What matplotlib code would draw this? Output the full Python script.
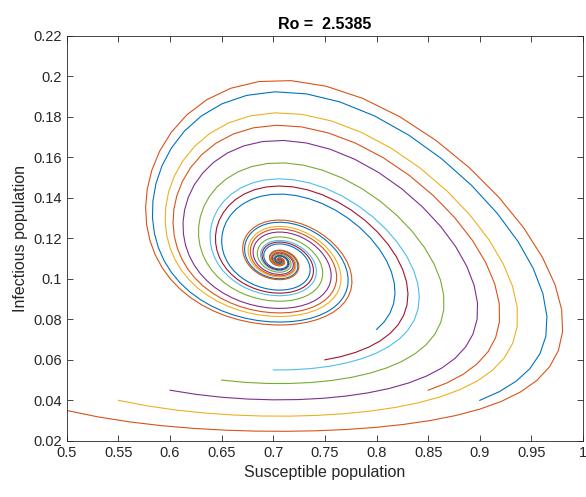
import numpy as np
import matplotlib.pyplot as plt

# initial conditions of each trajectory (plot order sets the colour)
S0 = [0.90, 0.50, 0.55, 0.60, 0.65, 0.70, 0.75, 0.80, 0.85]
I0 = [0.040, 0.035, 0.040, 0.045, 0.050, 0.055, 0.060, 0.075, 0.045]

R0 = 2.5385
S_eq = 0.706   # endemic equilibrium
I_eq = 0.109
beta = 1.0
mu = 0.004     # removal from the susceptible class
gamma = beta * S_eq
Lam = S_eq * (beta * I_eq + mu)

colores = ['#0072BD', '#D95319', '#EDB120', '#7E2F8E', '#77AC30', '#4DBEEE', '#A2142F']


def f(y):
    S, I = y
    return np.array([Lam - beta * S * I - mu * S, beta * S * I - gamma * I])


def rk4(y0, T=150.0, h=0.02, cada=25):
    y = np.array(y0, dtype=float)
    pts = [y.copy()]
    n = int(T / h)
    for i in range(n):
        k1 = f(y)
        k2 = f(y + h / 2 * k1)
        k3 = f(y + h / 2 * k2)
        k4 = f(y + h * k3)
        y = y + h / 6 * (k1 + 2 * k2 + 2 * k3 + k4)
        if (i + 1) % cada == 0:
            pts.append(y.copy())
    return np.array(pts)


plt.rcParams['font.family'] = ['Liberation Sans', 'DejaVu Sans']
fig = plt.figure(figsize=(5.86, 4.97), dpi=100)
ax = fig.add_axes([0.114, 0.113, 0.881, 0.815])

for j, (s, i) in enumerate(zip(S0, I0)):
    tr = rk4([s, i])
    ax.plot(tr[:, 0], tr[:, 1], color=colores[j % len(colores)], lw=0.8)

ax.set_xlim(0.5, 1.0)
ax.set_ylim(0.02, 0.22)
ax.set_xticks(np.arange(0.5, 1.001, 0.05))
ax.set_xticklabels(['0.5', '0.55', '0.6', '0.65', '0.7', '0.75', '0.8', '0.85', '0.9', '0.95', '1'])
ax.set_yticks(np.arange(0.02, 0.221, 0.02))
ax.set_yticklabels(['0.02', '0.04', '0.06', '0.08', '0.1', '0.12', '0.14', '0.16', '0.18', '0.2', '0.22'])
ax.tick_params(direction='in', top=True, right=True, length=4, width=0.6,
               colors='#262626', labelsize=10.5)
for sp in ax.spines.values():
    sp.set_color('#262626')
    sp.set_linewidth(0.6)

ax.set_xlabel('Susceptible population', fontsize=11.5, color='#262626')
ax.set_ylabel('Infectious population', fontsize=11.5, color='#262626')
ax.set_title('Ro =  %.4f' % R0, fontsize=11.5, fontweight='bold', pad=5)

fig.savefig('out.png', dpi=100)
